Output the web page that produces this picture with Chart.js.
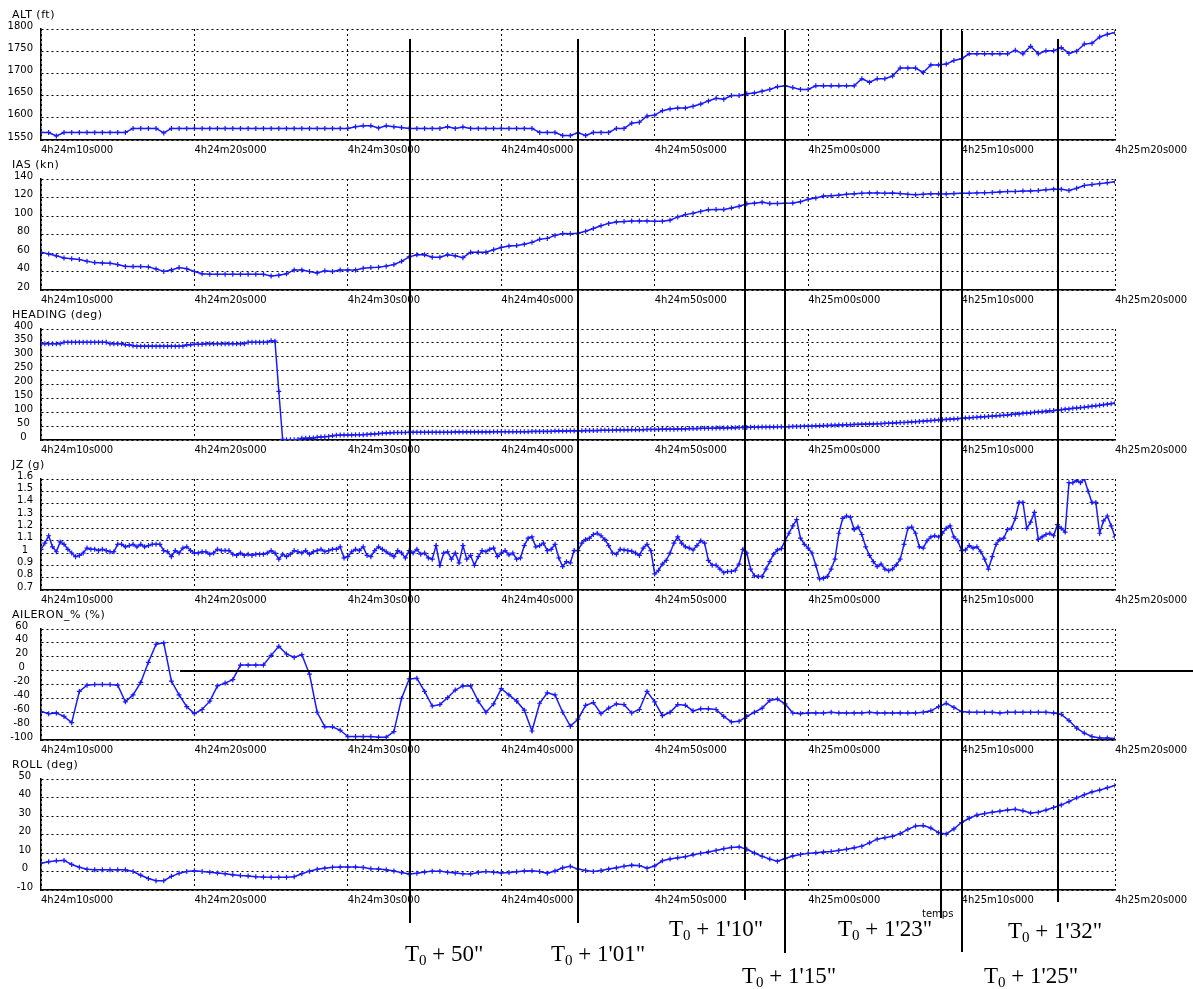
<!DOCTYPE html>
<html>
<head>
<meta charset="utf-8">
<script src="https://cdn.jsdelivr.net/npm/chart.js@4.4.1/dist/chart.umd.min.js"></script>
<style>
  html, body { margin: 0; padding: 0; background: #fff; }
  #page { position: relative; width: 1193px; height: 989px; overflow: hidden; background: #fff; }
  #page canvas { position: absolute; left: 0; }
  #overlay { top: 0; pointer-events: none; }
</style>
</head>
<body>
<div id="page">
  <canvas id="panel0" width="1193" height="160" style="top:0px"></canvas>
  <canvas id="panel1" width="1193" height="160" style="top:150px"></canvas>
  <canvas id="panel2" width="1193" height="160" style="top:300px"></canvas>
  <canvas id="panel3" width="1193" height="160" style="top:450px"></canvas>
  <canvas id="panel4" width="1193" height="160" style="top:600px"></canvas>
  <canvas id="panel5" width="1193" height="160" style="top:750px"></canvas>
  <canvas id="overlay" width="1193" height="989"></canvas>
</div>
<script>
// ---- time axis (seconds after 4h24m10s) ----
const xTickSeconds = [0, 10, 20, 30, 40, 50, 60, 70];
const xTickLabels = ['4h24m10s000', '4h24m20s000', '4h24m30s000', '4h24m40s000',
                     '4h24m50s000', '4h25m00s000', '4h25m10s000', '4h25m20s000'];

// ---- value-axis ticks per panel ----
const altTicks = [1550, 1600, 1650, 1700, 1750, 1800];
const iasTicks = [20, 40, 60, 80, 100, 120, 140];
const headingTicks = [0, 50, 100, 150, 200, 250, 300, 350, 400];
const jzTicks = [0.7, 0.8, 0.9, 1, 1.1, 1.2, 1.3, 1.4, 1.5, 1.6];
const aileronTicks = [-100, -80, -60, -40, -20, 0, 20, 40, 60];
const rollTicks = [-10, 0, 10, 20, 30, 40, 50];

// ---- recorded samples ----
const altStep = 0.5;   // s between samples
const altFt = [
  1567,1567,1559,1567,1567,1567,1567,1567,1567,1567,
  1567,1567,1576,1576,1576,1576,1566,1576,1576,1576,
  1576,1576,1576,1576,1576,1576,1576,1576,1576,1576,
  1576,1576,1576,1576,1576,1576,1576,1576,1576,1576,
  1576,1580,1582,1582,1577,1582,1580,1578,1576,1576,
  1576,1576,1576,1580,1576,1579,1576,1576,1576,1576,
  1576,1576,1576,1576,1576,1567,1567,1567,1560,1560,
  1566,1560,1567,1567,1567,1576,1576,1588,1590,1604,
  1606,1616,1620,1622,1622,1626,1631,1638,1644,1642,
  1650,1650,1654,1656,1660,1664,1670,1672,1668,1664,
  1664,1672,1672,1672,1672,1672,1672,1688,1680,1688,
  1688,1694,1712,1712,1712,1702,1719,1719,1721,1729,
  1733,1744,1744,1744,1744,1744,1744,1752,1744,1761,
  1744,1751,1751,1758,1745,1750,1766,1768,1782,1788,
  1792
];

const iasStep = 0.5;
const iasKn = [
  60.8,59,57,54.5,53.8,53,51,49.6,49.2,48.9,
  47.5,45.5,45.3,45.3,45,42.8,40,41.7,44.2,43,
  40,37.5,37,37,37,37,37,37,37,37,
  35.2,36,37.5,41.7,41.7,40,38.5,40.8,39.9,41.7,
  41.7,41.7,43.5,44.2,44.5,45.8,47.5,51,55.8,58,
  58,55.4,55.4,58,57,55,60.8,60.8,60.8,63.5,
  66,67.5,68,69.5,71.5,74.8,75.8,79,81,80.9,
  81.3,83.5,86.5,89.5,92,93.6,94,94.5,94.7,94.7,
  94.2,94.2,95.5,99,101.5,103,105,106.8,107,107,
  108.6,110.5,113.2,113.9,114.9,113.4,113.5,113.8,114,115.5,
  118,119.5,121.5,122,122.5,123.5,124,124.5,125,125,
  124.5,124.8,124.2,123.5,123,123.5,124,124,123.8,124.2,
  124.5,124.5,125,125.2,125.5,126,126.5,126.5,127,127,
  127.5,128.5,129,128.8,127.5,130,133,134,135,136,
  137
];

const headingStep = 0.25;
const headingDeg = [
  347,347,347,347,347,347,352,352,352,352,
  352,352,352,352,352,352,352,352,347,347,
  347,347,343,343,340,338,338,338,338,338,
  338,338,338,338,338,338,338,338,343,343,
  345,345,345,347,347,347,347,347,347,347,
  347,347,347,347,352,352,352,352,352,352,
  358,356,175,2,1,1,1,2,6,6,
  7,7,10,11,12,13,15,17,18,18,
  18,18,19,19,19,20,21,22,23,24,
  25,26,27,27,27,27,28,28,28,28,
  28,28,28,28,28,28,28,28,29,29,
  29,29,29,29,29,29,29,29,30,30,
  30,30,30,30,30,30,30,30,31,31,
  31,31,31,31,32,32,32,32,33,33,
  33,33,34,34,34,34,35,35,35,35,
  36,36,36,36,37,37,37,37,38,38,
  38,38,39,39,39,39,40,40,40,41,
  41,41,42,42,42,42,43,43,43,44,
  44,44,45,45,45,46,46,46,47,47,
  47,47,48,48,48,48,49,49,49,50,
  50,50,51,51,52,52,53,53,54,54,
  55,55,56,56,57,57,58,58,59,59,
  60,60,61,62,63,63,64,65,66,67,
  68,69,70,71,72,73,74,75,76,77,
  78,79,80,81,82,83,84,85,86,87,
  88,89,90,92,93,94,96,97,98,100,
  101,102,104,105,106,108,109,111,112,114,
  115,117,118,120,122,123,125,127,129,131,133
];

const jzStep = 0.25;
const jzG = [
  1.03,1.08,1.14,1.05,1.01,1.09,1.07,1.03,1.00,0.97,
  0.98,1.00,1.04,1.03,1.03,1.02,1.03,1.02,1.01,1.01,
  1.07,1.07,1.05,1.06,1.07,1.05,1.07,1.05,1.06,1.07,
  1.07,1.07,1.02,1.01,0.97,1.02,1.00,1.04,1.05,1.02,
  1.00,1.00,1.01,1.01,0.99,1.00,1.03,1.02,1.02,1.02,
  0.99,0.98,1.00,0.98,0.99,0.98,0.99,0.99,0.99,1.00,
  1.02,1.00,0.95,0.99,0.97,0.99,1.02,1.01,1.00,1.02,
  0.99,1.01,1.02,1.03,1.01,1.02,1.03,1.03,1.05,0.96,
  0.97,1.01,1.03,1.02,1.05,0.98,0.97,1.02,1.05,1.03,
  1.01,0.99,0.97,1.02,1.00,0.96,1.02,1.00,1.03,0.99,
  1.00,0.96,0.95,1.06,0.90,1.00,1.01,0.95,1.00,0.92,
  1.06,0.95,0.98,0.90,0.97,1.02,1.01,1.03,1.04,0.97,
  1.00,1.02,0.985,1.00,0.95,0.96,1.06,1.12,1.13,1.05,
  1.06,1.08,1.02,1.03,1.07,0.96,0.89,0.93,0.92,1.02,
  1.02,1.08,1.11,1.12,1.15,1.16,1.14,1.11,1.06,1.00,
  0.99,1.03,1.025,1.02,1.015,1.00,0.98,1.04,1.07,1.02,
  0.83,0.86,0.91,0.94,1.00,1.08,1.13,1.08,1.05,1.04,
  1.025,1.06,1.10,1.08,0.94,0.90,0.90,0.87,0.84,0.85,
  0.85,0.86,0.91,1.03,1.00,0.87,0.815,0.81,0.81,0.87,
  0.93,0.99,1.025,1.035,1.10,1.16,1.22,1.27,1.12,1.07,
  1.04,1.00,0.90,0.79,0.795,0.81,0.87,0.95,1.16,1.28,
  1.30,1.29,1.19,1.21,1.15,1.05,0.98,0.93,0.89,0.91,
  0.87,0.857,0.87,0.904,0.95,1.07,1.20,1.21,1.16,1.05,
  1.04,1.10,1.13,1.14,1.13,1.16,1.20,1.22,1.13,1.10,
  1.02,1.025,1.06,1.04,1.05,1.01,0.95,0.87,0.97,1.07,
  1.11,1.12,1.19,1.20,1.28,1.41,1.41,1.20,1.25,1.33,
  1.11,1.13,1.15,1.16,1.14,1.23,1.20,1.17,1.57,1.57,
  1.59,1.57,1.60,1.50,1.41,1.41,1.16,1.26,1.30,1.22,1.13
];

const aileronStep = 0.5;
const aileronPct = [
  -59,-62,-61,-66,-75,-30,-21,-20,-20,-20,
  -21,-45,-35,-17,12,38,40,-15,-35,-52,
  -62,-56,-44,-22,-18,-13,8,8,8,8,
  22,35,24,19,23,-5,-60,-81,-81,-86,
  -95,-95,-95,-95,-96,-96,-88,-40,-12,-11,
  -30,-51,-49,-39,-28,-22,-22,-44,-60,-48,
  -26,-35,-44,-57,-87,-47,-32,-35,-60,-80,
  -70,-50,-46,-62,-54,-48,-49,-61,-56,-30,
  -45,-65,-60,-49,-50,-58,-55,-55,-56,-66,
  -74,-73,-66,-60,-54,-43,-41,-48,-61,-62,
  -61,-61,-61,-60,-61,-61,-61,-61,-60,-61,
  -61,-61,-61,-61,-61,-60,-58,-52,-47,-53,
  -59,-60,-60,-60,-60,-61,-60,-60,-60,-60,
  -60,-60,-61,-63,-72,-83,-90,-95,-97,-97,
  -98
];

const rollStep = 0.5;
const rollDeg = [
  4.5,5.3,5.8,6,3.8,2.3,1.2,0.9,0.9,0.9,
  0.9,0.9,0,-2,-3.8,-5,-5,-2.6,-1,0,
  0.4,0,-0.4,-0.8,-1.2,-1.8,-2.2,-2.4,-2.8,-3,
  -3.1,-3.1,-3.1,-2.8,-1.2,0.2,1.2,1.8,2.3,2.4,
  2.4,2.4,2.2,1.5,1.3,0.9,0.3,-0.6,-1.4,-1,
  -0.3,0.2,0.2,-0.4,-0.8,-1.2,-1.3,-0.5,0,-0.4,
  -0.8,-0.6,-0.1,0.3,0.4,0,-0.9,0.3,2,2.8,
  1.3,0.6,0,0.6,1.3,2,2.8,3.4,3.2,1.8,
  3,5.8,6.8,7.4,8,9,9.8,10.6,11.4,12.3,
  13,13.3,12,10,8.2,6.7,5.6,7,8.4,9.2,
  9.8,10.2,10.5,10.8,11.4,12,12.8,13.7,15.5,17.5,
  18.3,19,20.5,22.8,24.6,24.8,23.5,21,20.3,23,
  26.5,28.8,30.5,31.3,32,32.6,33.3,33.6,32.8,31.6,
  32,33.2,34.6,36,37.8,39.8,41.5,43,44,45.3,
  46.5
];

// ---- event marks (seconds after 4h24m10s) and their captions ----
const eventSeconds = [24.05, 35.0, 45.88, 48.49, 58.66, 60.03, 66.28];
const eventTexts = ['50"', '1\'01"', '1\'10"', '1\'15"', '1\'23"', '1\'25"', '1\'32"'];
const aileronRefStart = 9.06; // zero reference drawn across the aileron panel from here

// ---- layout (page pixels) ----
const panelTops = [0, 150, 300, 450, 600, 750];
const eventLayout = [
  { top: 39, bottom: 923, lx: 405, ly: 961 },
  { top: 39, bottom: 923, lx: 551, ly: 961 },
  { top: 37, bottom: 900, lx: 669, ly: 936 },
  { top: 30, bottom: 953, lx: 742, ly: 983 },
  { top: 29, bottom: 918, lx: 838, ly: 936 },
  { top: 31, bottom: 952, lx: 984, ly: 983 },
  { top: 39, bottom: 902, lx: 1008, ly: 938 }
];

const AXIS_FONT = '"DejaVu Sans", sans-serif';
const SERIES_BLUE = '#1a1aff';

const panelTitle = {
  id: 'panelTitle',
  afterDraw(chart, args, opts) {
    const ctx = chart.ctx;
    ctx.save();
    ctx.font = '11px ' + AXIS_FONT;
    ctx.letterSpacing = '0.5px';
    ctx.fillStyle = '#000';
    ctx.textBaseline = 'middle';
    ctx.textAlign = 'left';
    ctx.fillText(opts.text, 12, 15);
    ctx.restore();
  }
};

const panels = [
  { title: 'ALT (ft)',       values: altFt,      step: altStep,     ticks: altTicks },
  { title: 'IAS (kn)',       values: iasKn,      step: iasStep,     ticks: iasTicks },
  { title: 'HEADING (deg)',  values: headingDeg, step: headingStep, ticks: headingTicks },
  { title: 'JZ (g)',         values: jzG,        step: jzStep,      ticks: jzTicks },
  { title: 'AILERON_% (%)',  values: aileronPct, step: aileronStep, ticks: aileronTicks },
  { title: 'ROLL (deg)',     values: rollDeg,    step: rollStep,    ticks: rollTicks }
];

function gridStyle() {
  return { color: '#000', lineWidth: 1, drawTicks: false };
}
function borderStyle() {
  return { display: true, color: '#000', width: 1.5, dash: [2, 3] };
}

function makePanel(idx, cfg) {
  const canvas = document.getElementById('panel' + idx);
  const points = cfg.values.map((v, k) => ({ x: k * cfg.step, y: v }));
  return new Chart(canvas, {
    type: 'line',
    data: {
      datasets: [{
        data: points,
        borderColor: SERIES_BLUE,
        borderWidth: 1.5,
        pointStyle: 'cross',
        pointRadius: 2.5,
        pointBorderWidth: 1.2,
        pointBorderColor: SERIES_BLUE,
        pointBackgroundColor: SERIES_BLUE,
        fill: false,
        tension: 0
      }]
    },
    options: {
      responsive: false,
      animation: false,
      events: [],
      layout: { padding: { top: 29, left: 4, right: 78, bottom: 0 } },
      plugins: {
        legend: { display: false },
        tooltip: { enabled: false },
        panelTitle: { text: cfg.title }
      },
      scales: {
        x: {
          type: 'linear',
          min: xTickSeconds[0],
          max: xTickSeconds[xTickSeconds.length - 1],
          afterBuildTicks: a => { a.ticks = xTickSeconds.map(v => ({ value: v })); },
          ticks: {
            align: 'start', padding: 4, maxRotation: 0, minRotation: 0, autoSkip: false,
            color: '#000', font: { family: AXIS_FONT, size: 10 },
            callback: (v, i) => xTickLabels[i]
          },
          grid: gridStyle(),
          border: borderStyle()
        },
        y: {
          min: cfg.ticks[0],
          max: cfg.ticks[cfg.ticks.length - 1],
          afterBuildTicks: a => { a.ticks = cfg.ticks.map(v => ({ value: v })); },
          afterFit: a => { a.width = 37; },
          ticks: {
            crossAlign: 'center', padding: 8, labelOffset: -3, autoSkip: false,
            color: '#000', font: { family: AXIS_FONT, size: 10 },
            callback: v => String(v)
          },
          grid: gridStyle(),
          border: borderStyle()
        }
      }
    },
    plugins: [panelTitle]
  });
}

const charts = panels.map((p, i) => makePanel(i, p));

function drawEventLabel(ctx, x, baseline, text) {
  ctx.textBaseline = 'alphabetic';
  ctx.textAlign = 'left';
  ctx.fillStyle = '#000';
  ctx.font = '23px "Liberation Serif", "Times New Roman", serif';
  ctx.fillText('T', x, baseline);
  let w = ctx.measureText('T').width;
  ctx.font = '15px "Liberation Serif", "Times New Roman", serif';
  ctx.fillText('0', x + w, baseline + 4);
  w += ctx.measureText('0').width;
  ctx.font = '23px "Liberation Serif", "Times New Roman", serif';
  ctx.fillText(' + ' + text, x + w, baseline);
}

function drawAnnotations() {
  const ctx = document.getElementById('overlay').getContext('2d');
  const xScale = charts[0].scales.x;
  ctx.save();
  ctx.strokeStyle = '#000';
  ctx.lineWidth = 2;

  // zero reference across the aileron panel
  const ail = charts[4];
  const yZero = Math.round(panelTops[4] + ail.scales.y.getPixelForValue(0));
  ctx.beginPath();
  ctx.moveTo(xScale.getPixelForValue(aileronRefStart), yZero);
  ctx.lineTo(1193, yZero);
  ctx.stroke();

  // event markers spanning all panels
  eventSeconds.forEach((t, i) => {
    const x = Math.round(xScale.getPixelForValue(t));
    const m = eventLayout[i];
    ctx.beginPath();
    ctx.moveTo(x, m.top);
    ctx.lineTo(x, m.bottom);
    ctx.stroke();
  });
  eventSeconds.forEach((t, i) => {
    const m = eventLayout[i];
    drawEventLabel(ctx, m.lx, m.ly, eventTexts[i]);
  });

  // time-axis caption of the last panel
  ctx.font = '10px ' + AXIS_FONT;
  ctx.fillStyle = '#000';
  ctx.textBaseline = 'middle';
  ctx.fillText('temps', 922, 914);
  ctx.restore();
}

drawAnnotations();
</script>
</body>
</html>
